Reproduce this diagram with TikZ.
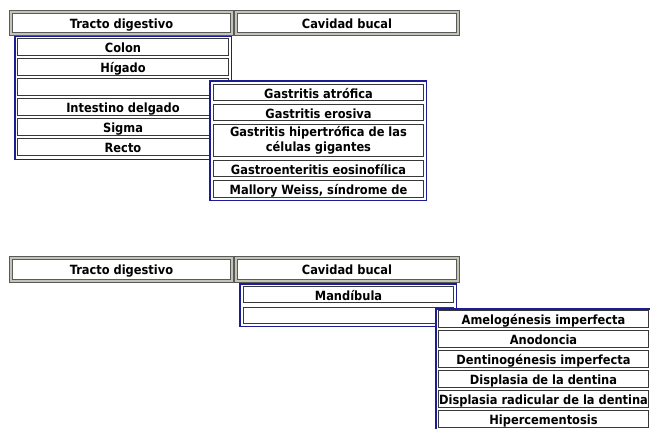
\documentclass[tikz,border=0pt]{standalone}
\usepackage{fontspec}
\usetikzlibrary{positioning}
\newfontfamily\cellfont{DejaVuSansCondensed-Bold.ttf}
\definecolor{menublue}{RGB}{28,28,150}
\definecolor{hdrband}{RGB}{196,196,182}
\definecolor{hdrline}{RGB}{90,90,90}
\definecolor{itemline}{RGB}{56,56,56}

\begin{document}
\begin{tikzpicture}[x=1pt, y=-1pt,
  hdr/.style={draw=hdrline, double=hdrband, double distance=2.2pt, line width=0.8pt,
              fill=white, minimum width=221.5pt, minimum height=22.5pt, inner sep=0pt,
              text height=11.2pt, text depth=0.4pt,
              font=\cellfont\fontsize{12.7}{14}\selectfont},
  menu/.style={draw=menublue, line width=1.5pt, fill=white, inner sep=0pt, minimum width=216.5pt},
  item/.style={draw=itemline, line width=1.4pt, fill=white, minimum width=210.5pt,
               minimum height=16.5pt, inner sep=0pt, align=center,
               text height=11.4pt, text depth=0.4pt,
               font=\cellfont\fontsize{12.7}{14.5}\selectfont},
]
\useasboundingbox (0,0) rectangle (650,428);

% upper menu bar
\node[hdr] (tracto1) at (121.5,23) {Tracto digestivo};
\node[hdr] (cavidad1) at (347,23) {Cavidad bucal};

% first drop-down
\node[menu, minimum height=122.5pt] (tractomenu) at (123,98) {};
\node[item] (colon) at (123,47) {Colon};
\node[item] (higado) at (123,67) {Hígado};
\node[item] (estomago) at (123,87) {};
\node[item] (intestino) at (123,107) {Intestino delgado};
\node[item] (sigma) at (123,127) {Sigma};
\node[item] (recto) at (123,147) {Recto};

% second drop-down
\node[menu, minimum height=119.5pt] (gastromenu) at (318,140.5) {};
\node[item] (atrofica) at (318.5,92.5) {Gastritis atrófica};
\node[item] (erosiva) at (318.5,112.5) {Gastritis erosiva};
\node[item, text height=, text depth=, minimum height=32pt] (hipertrofica) at (318.5,140.5)
  {Gastritis hipertrófica de las\\células gigantes};
\node[item] (eosinofilica) at (318.5,168.5) {Gastroenteritis eosinofílica};
\node[item] (mallory) at (318.5,189) {Mallory Weiss, síndrome de};

% lower menu bar
\node[hdr] (tracto2) at (121.5,269.5) {Tracto digestivo};
\node[hdr] (cavidad2) at (347,269.5) {Cavidad bucal};

% third drop-down
\node[menu, minimum height=42.5pt] (bucalmenu) at (348,305) {};
\node[item] (mandibula) at (348.5,294.5) {Mandíbula};
\node[item] (dientes) at (348.5,315.5) {};

% fourth drop-down
\node[menu, minimum height=132pt] (dientemenu) at (544,374.75) {};
\node[item] (amelo) at (543.5,319) {Amelogénesis imperfecta};
\node[item] (anodoncia) at (543.5,339) {Anodoncia};
\node[item] (dentino) at (543.5,359) {Dentinogénesis imperfecta};
\node[item] (displasia) at (543.5,379) {Displasia de la dentina};
\node[item] (radicular) at (543.5,399) {Displasia radicular de la dentina};
\node[item] (hiperce) at (543.5,419) {Hipercementosis};
\end{tikzpicture}
\end{document}
